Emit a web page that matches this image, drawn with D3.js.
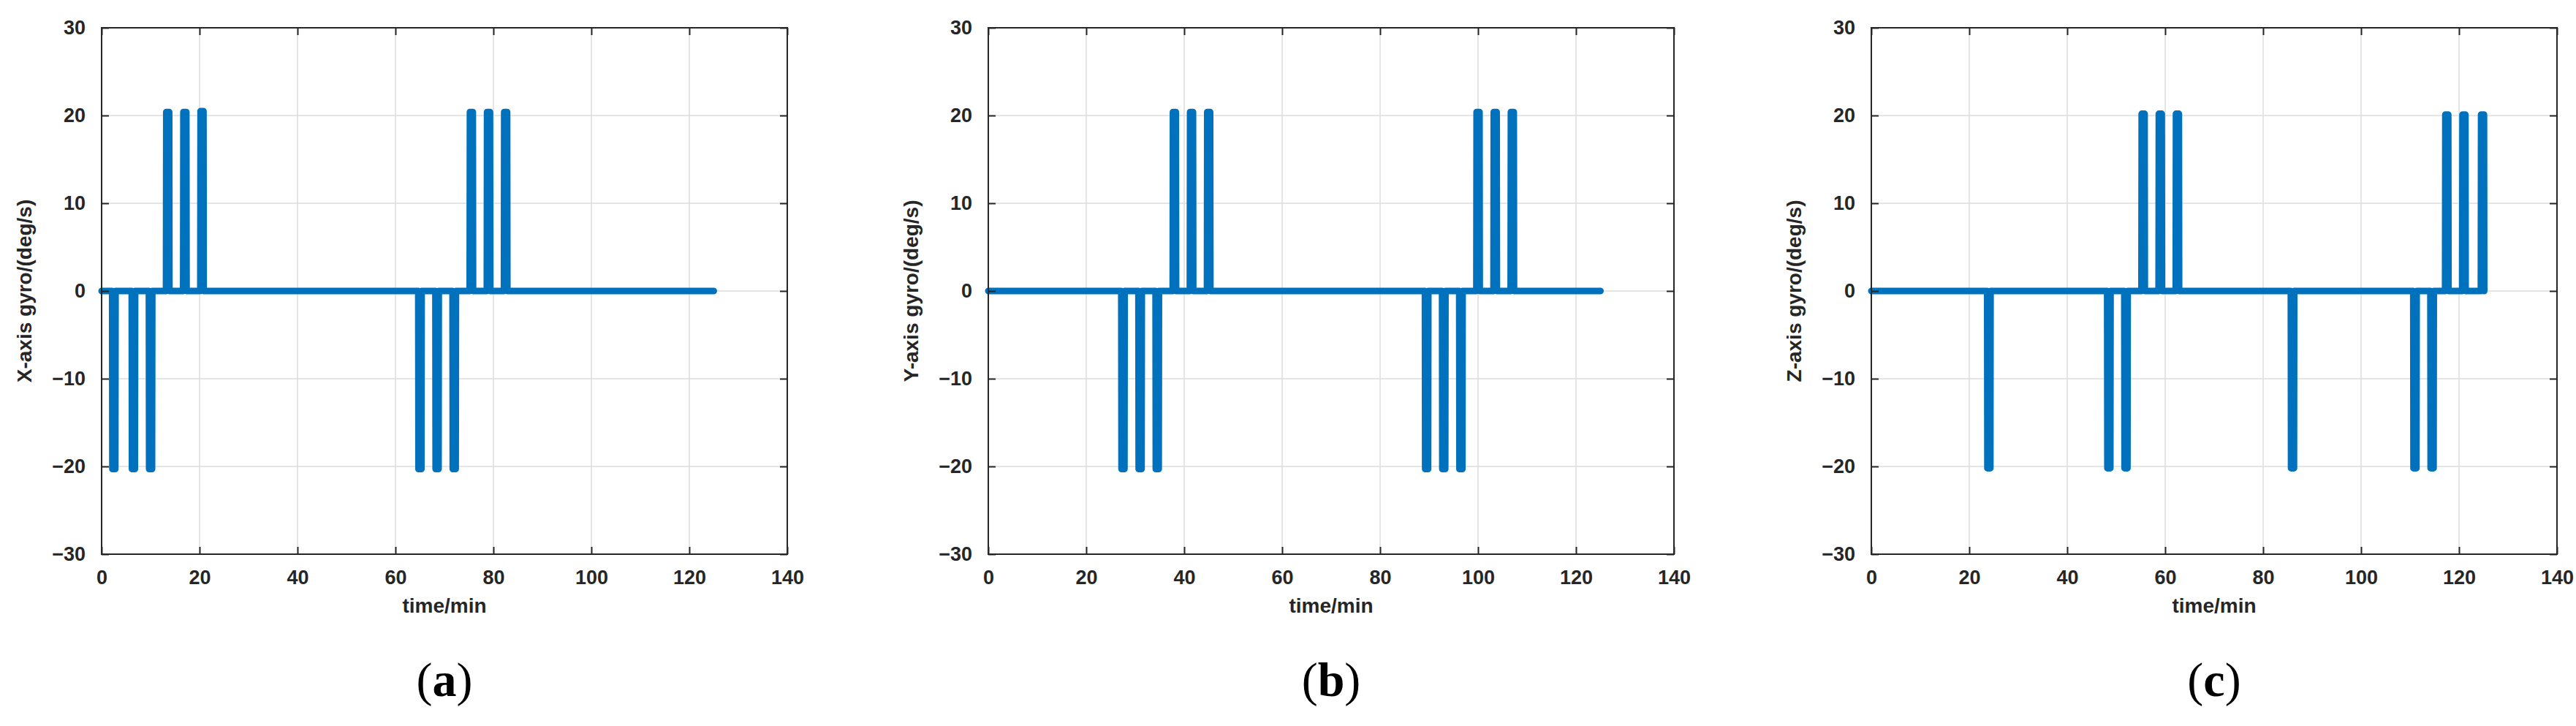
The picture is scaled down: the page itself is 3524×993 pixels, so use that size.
<!DOCTYPE html>
<html><head><meta charset="utf-8">
<script src="https://cdn.jsdelivr.net/npm/d3@7/dist/d3.min.js"></script>
<style>body{margin:0;background:#fff}</style></head>
<body><svg id="c" width="3524" height="993"></svg>
<script>
const panelLabels = ["(a)", "(b)", "(c)"];
const yLabels = ["X-axis gyro/(deg/s)", "Y-axis gyro/(deg/s)", "Z-axis gyro/(deg/s)"];
const xTicks = [0, 20, 40, 60, 80, 100, 120, 140];
const yTicks = [-30, -20, -10, 0, 10, 20, 30];
const endTime = 125;
// spike centres (min) and amplitudes (deg/s)
const spikesA = [[2.5,-20.3],[6.5,-20.3],[10,-20.3],[13.5,20.4],[17,20.4],[20.5,20.5],
  [65,-20.3],[68.5,-20.3],[72,-20.3],[75.5,20.4],[79,20.4],[82.5,20.4]];
const spikesB = [[27.5,-20.3],[31,-20.3],[34.5,-20.3],[38,20.4],[41.5,20.4],[45,20.4],
  [89.5,-20.3],[93,-20.3],[96.5,-20.3],[100,20.4],[103.5,20.4],[107,20.4]];
const spikesC = [[24,-20.2],[48.5,-20.2],[52,-20.2],[55.5,20.2],[59,20.2],[62.5,20.2],
  [86,-20.2],[111,-20.2],[114.5,-20.2],[117.5,20.1],[121,20.1],[124.8,20.1]];
const allSpikes = [spikesA, spikesB, spikesC];

const svg = d3.select("#c");
const lefts = [139, 1352, 2560];
const W = 938, plotTop = 38, plotBottom = 758;
allSpikes.forEach((sp, i) => {
  const g = svg.append("g");
  const x = d3.scaleLinear().domain([0,140]).range([lefts[i], lefts[i]+W]);
  const y = d3.scaleLinear().domain([-30,30]).range([plotBottom, plotTop]);
  g.selectAll(".gx").data(xTicks).join("line").attr("x1",d=>x(d)).attr("x2",d=>x(d))
    .attr("y1",plotTop).attr("y2",plotBottom).attr("stroke","#dcdcdc").attr("stroke-width",1.5);
  g.selectAll(".gy").data(yTicks).join("line").attr("y1",d=>y(d)).attr("y2",d=>y(d))
    .attr("x1",x(0)).attr("x2",x(140)).attr("stroke","#dcdcdc").attr("stroke-width",1.5);
  const pts = [[0,0]];
  sp.forEach(([t,a]) => { pts.push([t-0.35,0],[t-0.3,a],[t+0.3,a],[t+0.35,0]); });
  pts.push([endTime,0]);
  g.append("path").datum(pts).attr("fill","none").attr("stroke","#0072BD")
    .attr("stroke-width",9).attr("stroke-linejoin","round").attr("stroke-linecap","round")
    .attr("d", d3.line().x(d=>x(d[0])).y(d=>y(d[1])));
  g.append("rect").attr("x",x(0)).attr("y",plotTop).attr("width",W).attr("height",plotBottom-plotTop)
    .attr("fill","none").attr("stroke","#262626").attr("stroke-width",2);
  g.append("g").attr("transform",`translate(0,${plotBottom})`)
    .call(d3.axisBottom(x).tickValues(xTicks).tickSize(-10).tickPadding(22));
  g.append("g").attr("transform",`translate(0,${plotTop})`)
    .call(d3.axisTop(x).tickValues(xTicks).tickSize(-10).tickFormat(""));
  g.append("g").attr("transform",`translate(${x(0)},0)`)
    .call(d3.axisLeft(y).tickValues(yTicks).tickSize(-10).tickPadding(22));
  g.append("g").attr("transform",`translate(${x(140)},0)`)
    .call(d3.axisRight(y).tickValues(yTicks).tickSize(-10).tickFormat(""));
  g.selectAll(".domain").remove();
  g.selectAll(".tick line").attr("stroke","#262626").attr("stroke-width",2);
  g.selectAll(".tick text").attr("font-family","Liberation Sans, Arial").attr("font-weight","bold")
    .attr("font-size",27).attr("fill","#262626");
  g.append("text").attr("x",x(70)).attr("y",838).attr("text-anchor","middle")
    .attr("font-family","Liberation Sans, Arial").attr("font-weight","bold").attr("font-size",28)
    .attr("fill","#262626").text("time/min");
  g.append("text").attr("transform",`translate(${lefts[i]-96},${y(0)}) rotate(-90)`)
    .attr("text-anchor","middle").attr("font-family","Liberation Sans, Arial").attr("font-weight","bold")
    .attr("font-size",28).attr("fill","#262626").text(yLabels[i]);
  g.append("text").attr("x",x(70)).attr("y",952).attr("text-anchor","middle")
    .attr("font-family","Liberation Serif, Times New Roman").attr("font-size",66).attr("fill","#000")
    .html(`(<tspan font-weight="bold">${panelLabels[i][1]}</tspan>)`);
});
</script></body></html>
